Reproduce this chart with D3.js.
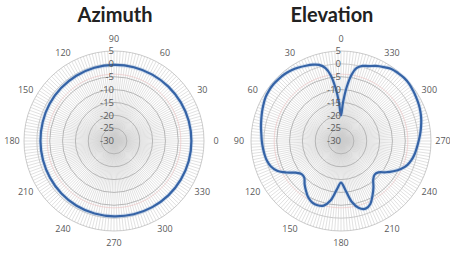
<!DOCTYPE html>
<html>
<head>
<meta charset="utf-8">
<script src="https://cdn.jsdelivr.net/npm/d3@7"></script>
<style>
  body { margin: 0; background: #fff; }
  svg { display: block; }
</style>
</head>
<body>
<div id="chart"></div>
<script>
// gain rings (dB) and angle labels
var dbTicks = [5, 0, -5, -10, -15, -20, -25, -30];
var angleTicks = [0, 30, 60, 90, 120, 150, 180, 210, 240, 270, 300, 330];
var halfPowerRing = -4;

// Azimuth pattern (degrees, counter-clockwise from 3 o'clock)
var azAngles = [0, 15, 30, 45, 60, 75, 90, 105, 120, 135, 150, 165,
                180, 195, 210, 225, 240, 255, 270, 285, 300, 315, 330, 345];
var azGain = [0.1, 0.1, 0.0, -0.1, -0.2, -0.3, -0.4, -0.5, -0.7, -0.9, -1.1, -1.3,
              -1.4, -1.4, -1.3, -1.1, -0.9, -0.8, -0.7, -0.5, -0.3, -0.1, 0.0, 0.1];

// Elevation pattern (degrees, counter-clockwise from 12 o'clock)
var elAngles = [0, 3, 6, 9, 12, 16, 20, 25, 30, 35, 40, 45, 50, 55, 60, 65, 70, 75, 80, 85,
                90, 95, 100, 105, 110, 115, 120, 125, 130, 135, 140, 145, 150, 155, 160, 165,
                170, 175, 180, 185, 190, 195, 200, 205, 210, 215, 220, 225, 230, 235, 240,
                245, 250, 255, 260, 265, 270, 275, 280, 285, 290, 295, 300, 305, 310, 315,
                320, 325, 330, 335, 340, 344, 348, 351, 354, 357];
var elGain = [-20, -15, -9, -4, -1, 0.8, 1.6, 2.3, 3.0, 3.6, 4.0, 4.2, 4.3, 4.2, 3.9, 3.3, 2.7, 2.1, 1.6, 1.1,
              0.8, 0.5, 0.2, -0.2, -1.0, -2.6, -5.5, -8.5, -10, -9.8, -8, -6.3, -4.6, -3.6, -3.4, -4,
              -6.5, -11, -13.8, -11, -6, -3, -2, -3, -5.5, -8, -10.5, -11.5, -11, -8.8, -6.5,
              -4.3, -2.6, -1.6, -0.9, -0.4, 0.2, 0.9, 1.6, 2.3, 2.9, 3.4, 3.8, 4.2, 4.6, 4.7,
              4.5, 4.2, 3.2, 2.2, 1.0, 0.4, -1, -4, -9, -15];

var width = 450, height = 253;
var R = 90;

var svg = d3.select("#chart").append("svg")
    .attr("width", width)
    .attr("height", height);

var r = d3.scaleLinear().domain([-30, 5]).range([0, R]);

function drawPolar(opts) {
  var g = svg.append("g").attr("transform", "translate(" + opts.cx + "," + opts.cy + ")");

  // spokes
  var spokes = d3.range(0, 360, 2);
  g.selectAll(".spoke")
    .data(spokes)
    .enter()
    .append("line")
    .attr("class", "spoke")
    .attr("x1", 0).attr("y1", 0)
    .attr("x2", function(d) { return R * Math.cos(d * Math.PI / 180); })
    .attr("y2", function(d) { return R * Math.sin(d * Math.PI / 180); })
    .attr("stroke", "#cdcdcd")
    .attr("stroke-width", 0.6);

  // rings
  g.selectAll(".ring")
    .data(dbTicks.filter(function(d) { return d > -30; }))
    .enter()
    .append("circle")
    .attr("class", "ring")
    .attr("r", function(d) { return r(d); })
    .attr("fill", "none")
    .attr("stroke", function(d) { return d >= 0 ? "#c4c4c4" : "#b0b0b0"; })
    .attr("stroke-width", 0.9);

  g.append("circle")
    .attr("r", r(halfPowerRing))
    .attr("fill", "none")
    .attr("stroke", "#ecc0c0")
    .attr("stroke-width", 0.6);

  // pattern
  var line = d3.lineRadial()
    .angle(function(d) { return opts.toAngle(d[0]); })
    .radius(function(d) { return r(d[1]); })
    .curve(d3.curveCatmullRomClosed.alpha(0.5));

  var pts = opts.angles.map(function(a, i) { return [a, opts.gain[i]]; });

  g.append("path")
    .datum(pts)
    .attr("d", line)
    .attr("fill", "none")
    .attr("stroke", "#a9c3e3")
    .attr("stroke-width", 4)
    .attr("opacity", 0.5);

  g.append("path")
    .datum(pts)
    .attr("d", line)
    .attr("fill", "none")
    .attr("stroke", "#3563a6")
    .attr("stroke-width", 2.2);

  // dB labels
  g.selectAll(".dblabel")
    .data(dbTicks)
    .enter()
    .append("text")
    .attr("class", "dblabel")
    .attr("x", 0)
    .attr("y", function(d) { return -r(d); })
    .attr("dy", "0.35em")
    .attr("text-anchor", "end")
    .attr("font-family", "Open Sans, sans-serif")
    .attr("font-size", 9.5)
    .attr("fill", "#595959")
    .text(function(d) { return d; });

  // angle labels
  g.selectAll(".anglabel")
    .data(angleTicks)
    .enter()
    .append("text")
    .attr("class", "anglabel")
    .attr("x", function(d) { return (R + 12) * Math.sin(opts.toAngle(d)); })
    .attr("y", function(d) { return -(R + 12) * Math.cos(opts.toAngle(d)); })
    .attr("dy", "0.35em")
    .attr("text-anchor", "middle")
    .attr("font-family", "Open Sans, sans-serif")
    .attr("font-size", 9)
    .attr("fill", "#595959")
    .text(function(d) { return d; });

  svg.append("text")
    .attr("x", opts.titleX)
    .attr("y", 22)
    .attr("text-anchor", "middle")
    .attr("font-family", "Lato, sans-serif")
    .attr("font-weight", "bold")
    .attr("font-size", 20)
    .attr("fill", "#222")
    .text(opts.title);
}

drawPolar({
  cx: 114, cy: 141, title: "Azimuth", titleX: 115,
  angles: azAngles, gain: azGain,
  toAngle: function(a) { return (90 - a) * Math.PI / 180; }
});

drawPolar({
  cx: 341, cy: 141, title: "Elevation", titleX: 332,
  angles: elAngles, gain: elGain,
  toAngle: function(a) { return -a * Math.PI / 180; }
});
</script>
</body>
</html>
